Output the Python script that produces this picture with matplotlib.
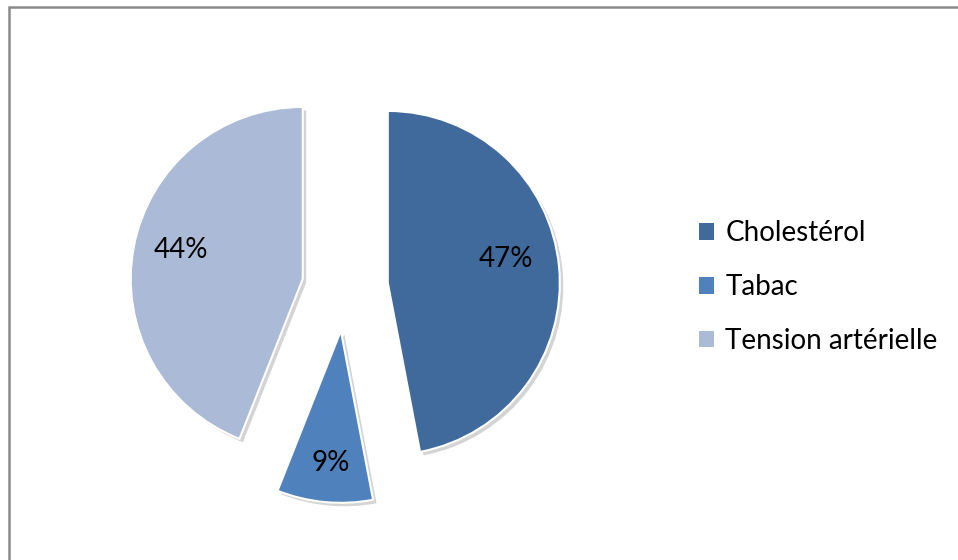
import matplotlib
matplotlib.use("Agg")
import matplotlib.pyplot as plt
from matplotlib.patches import Patch, Rectangle
import matplotlib.patheffects as pe

categories = ["Cholestérol", "Tabac", "Tension artérielle"]
values = [47, 9, 44]
colors = ["#3F6A9B", "#4F81BD", "#AABAD7"]

plt.rcParams["font.family"] = ["Lato", "DejaVu Sans"]

W, H = 958, 560
fig = plt.figure(figsize=(W / 100, H / 100), dpi=100)
ax = fig.add_axes([0, 0, 1, 1])
ax.set_xlim(0, W)
ax.set_ylim(0, H)
ax.set_aspect("equal")
ax.axis("off")

# chart frame (only top and left edges fall inside the canvas)
fig.patches.append(Rectangle((9 / W, -0.1), 1.2, 1.1 - 7 / H,
                             transform=fig.transFigure, fill=False,
                             edgecolor="#8A8A8A", linewidth=1.8, zorder=0))

wedges, texts, autotexts = ax.pie(
    values, colors=colors, startangle=90, counterclock=False,
    explode=[43, 44, 43], center=(345, H - 287), radius=172,
    autopct=lambda p: f"{p:.0f}%", pctdistance=0.74,
    wedgeprops=dict(edgecolor="white", linewidth=1.5),
    textprops=dict(fontsize=20, color="black"),
)
for w in wedges:
    w.set_path_effects([pe.SimplePatchShadow(offset=(2.5, -2.5), alpha=0.25,
                                             shadow_rgbFace="#555555"),
                        pe.Normal()])

# small nudges of the percentage labels inside their wedges
nudges = [(-9, 12), (2, -5), (3, 5)]
for t, (dx, dy) in zip(autotexts, nudges):
    x, y = t.get_position()
    t.set_position((x + dx, y + dy))

ax.set_xlim(0, W)
ax.set_ylim(0, H)

handles = [Patch(facecolor=c, edgecolor="none") for c in colors]
fig.legend(handles, categories, loc="center left",
           bbox_to_anchor=(674 / W, 1 - 287 / H), frameon=False,
           fontsize=20, handlelength=0.55, handleheight=0.55,
           handletextpad=0.4, labelspacing=1.0)

fig.savefig("out.png", dpi=100)
